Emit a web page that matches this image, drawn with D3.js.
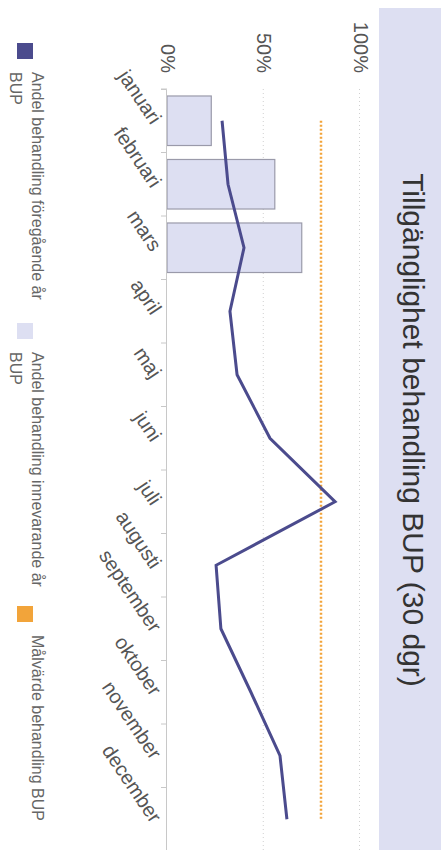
<!DOCTYPE html>
<html>
<head>
<meta charset="utf-8">
<script src="https://cdn.jsdelivr.net/npm/d3@7"></script>
<style>
html,body{margin:0;padding:0;background:#fff;}
svg{display:block;font-family:"Liberation Sans",Arial,sans-serif;}
</style>
</head>
<body>
<svg id="chart" width="441" height="850"></svg>
<script>
const titleText = "Tillgänglighet behandling BUP (30 dgr)";
const months = ["januari","februari","mars","april","maj","juni","juli","augusti","september","oktober","november","december"];
const previousYear = [28.6, 31.7, 40, 32.7, 36.4, 53.5, 87.3, 25.5, 28, 43.6, 58.7, 62.3];
const currentYear = [23, 56, 70];
const targetValue = 80;
const yTicks = [0, 50, 100];
const legendLabels = [["Andel behandling föregående år","BUP"],["Andel behandling innevarande år","BUP"],["Målvärde behandling BUP"]];
const colors = {prev:"#4b4b8d", curr:"#dddff2", currStroke:"#9a9aaa", target:"#f2a43a", band:"#dddff2"};

const W = 850, H = 441;
const svg = d3.select("#chart");
const g = svg.append("g").attr("transform","translate(441,0) rotate(90)");

// title band
g.append("rect").attr("x",8).attr("y",0).attr("width",W-8).attr("height",62).attr("fill",colors.band);
g.append("text").attr("x",430).attr("y",38).attr("text-anchor","middle")
  .attr("font-size",30).attr("fill","#333").text(titleText);

const x = d3.scaleBand().domain(months).range([89,851]).paddingInner(0.22).paddingOuter(0.11);
const y = d3.scaleLinear().domain([0,100]).range([274,81.5]);
const cx = m => x(m) + x.bandwidth()/2;

// gridlines
g.append("g").selectAll("line").data(yTicks.filter(t=>t>0)).join("line")
  .attr("x1",89).attr("x2",851).attr("y1",d=>y(d)).attr("y2",d=>y(d))
  .attr("stroke","#d0d0d0").attr("stroke-width",1).attr("stroke-dasharray","1,3");

// y labels
g.append("g").selectAll("text").data(yTicks).join("text")
  .attr("x",73).attr("y",d=>y(d)+6).attr("text-anchor","end")
  .attr("font-size",20).attr("fill","#555").text(d=>d+"%");

// bars
g.append("g").selectAll("rect").data(currentYear).join("rect")
  .attr("x",(d,i)=>x(months[i])).attr("width",x.bandwidth())
  .attr("y",d=>y(d)).attr("height",d=>y(0)-y(d))
  .attr("fill",colors.curr).attr("stroke",colors.currStroke).attr("stroke-width",1.2);

// x axis
const xAxis = d3.axisBottom(x).tickSize(6).tickFormat("");
const ax = g.append("g").attr("transform","translate(0,274)").call(xAxis);
ax.select(".domain").attr("stroke","#c8c8c8");
ax.selectAll(".tick").remove();
// ticks at band boundaries
const bounds = months.map(m=>x(m)-x.step()*x.paddingInner()/2).concat([851]);
g.append("g").selectAll("line").data(bounds).join("line")
  .attr("x1",d=>d).attr("x2",d=>d).attr("y1",274).attr("y2",280)
  .attr("stroke","#c8c8c8");

// month labels
g.append("g").selectAll("text").data(months).join("text")
  .attr("text-anchor","end").attr("font-size",20).attr("fill","#555")
  .attr("transform",d=>`translate(${cx(d)+5},${290}) rotate(-34)`)
  .text(d=>d);

// target line
g.append("line").attr("x1",cx(months[0])).attr("x2",cx(months[months.length-1]))
  .attr("y1",y(targetValue)).attr("y2",y(targetValue))
  .attr("stroke",colors.target).attr("stroke-width",2.5).attr("stroke-dasharray","2,2");

// previous year line
const line = d3.line().x((d,i)=>cx(months[i])).y(d=>y(d));
g.append("path").datum(previousYear).attr("d",line)
  .attr("fill","none").attr("stroke",colors.prev).attr("stroke-width",3);

// legend
const legX = [43, 323, 606];
const legC = [colors.prev, colors.curr, colors.target];
legendLabels.forEach((lines,i)=>{
  g.append("rect").attr("x",legX[i]).attr("y",408).attr("width",16).attr("height",16).attr("fill",legC[i]);
  const t = g.append("text").attr("x",legX[i]+29).attr("y",409).attr("font-size",16).attr("fill","#666");
  lines.forEach((l,j)=>t.append("tspan").attr("x",legX[i]+29).attr("dy",j===0?0:22).text(l));
});
</script>
</body>
</html>
